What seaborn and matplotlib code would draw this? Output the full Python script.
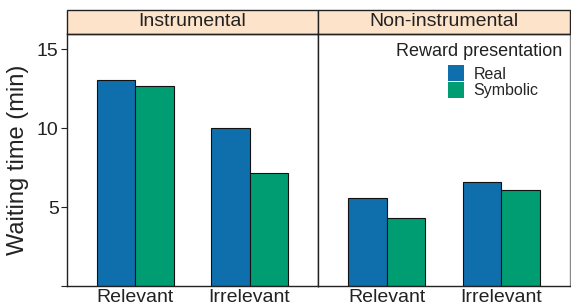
import seaborn as sns
import matplotlib.pyplot as plt
import pandas as pd
from matplotlib.patches import Rectangle

# values
panels = ["Instrumental", "Non-instrumental"]
relevance = ["Relevant", "Irrelevant"]
presentation = ["Real", "Symbolic"]
instrumental_real = [13.05, 10.0]
instrumental_symbolic = [12.65, 7.15]
noninstrumental_real = [5.6, 6.6]
noninstrumental_symbolic = [4.3, 6.05]

colors = {"Real": "#0F6FAD", "Symbolic": "#009D72"}
strip_color = "#FDE3C9"

rows = []
for panel, real, symb in [(panels[0], instrumental_real, instrumental_symbolic),
                          (panels[1], noninstrumental_real, noninstrumental_symbolic)]:
    for i, rel in enumerate(relevance):
        rows.append({"panel": panel, "relevance": rel, "presentation": "Real", "wait": real[i]})
        rows.append({"panel": panel, "relevance": rel, "presentation": "Symbolic", "wait": symb[i]})
df = pd.DataFrame(rows)

sns.set_style("white")
plt.rcParams['font.family'] = ['Liberation Sans', 'DejaVu Sans']

fig = plt.figure(figsize=(5.71, 3.06), dpi=100)
W, H = 571, 306
ax_bottom = (H - 286) / H
ax_height = 252 / H
axes = [fig.add_axes([67 / W, ax_bottom, 251 / W, ax_height]),
        fig.add_axes([318 / W, ax_bottom, 252 / W, ax_height])]

for k, (ax, panel) in enumerate(zip(axes, panels)):
    sub = df[df["panel"] == panel]
    sns.barplot(data=sub, x="relevance", y="wait", hue="presentation",
                order=relevance, hue_order=presentation, palette=colors,
                saturation=1, width=0.67, edgecolor="#111111", linewidth=0.8,
                ax=ax, legend=(k == 1))
    ax.set_xlim(-0.6, 1.6)
    ax.set_ylim(0, 15.95)
    ax.set_xlabel("")
    ax.set_ylabel("")
    ax.tick_params(axis="x", length=0, pad=2, labelsize=14, colors="#222222")
    for side in ["left", "right", "top", "bottom"]:
        ax.spines[side].set_color("#222222")
        ax.spines[side].set_linewidth(1.0)
    # strip
    ax.add_patch(Rectangle((0, 1), 1, 24 / 252, transform=ax.transAxes,
                           facecolor=strip_color, edgecolor="#222222",
                           linewidth=1.0, clip_on=False))
    ax.text(0.5, 1 + 12 / 252, panel, transform=ax.transAxes, ha="center",
            va="center", fontsize=14, color="#222222")

axes[0].set_yticks([0, 5, 10, 15])
axes[0].set_yticklabels(["", "5", "10", "15"])
axes[0].tick_params(axis="y", left=True, length=4, width=0.8, pad=2,
                    labelsize=14, colors="#222222")
axes[0].set_ylabel("Waiting time (min)", fontsize=17, color="#222222", labelpad=6)

axes[1].set_yticks([5, 10, 15])
axes[1].tick_params(axis="y", left=False, right=True, labelleft=False,
                    length=4, width=0.8, colors="#888888")
axes[1].spines["right"].set_color("#888888")

axes[1].text(0.968, 0.966, "Reward presentation", transform=axes[1].transAxes,
             ha="right", va="top", fontsize=13, color="#222222")
leg = axes[1].legend(loc="upper left", bbox_to_anchor=(0.516, 0.875),
                     frameon=False, fontsize=11.5, handlelength=1.0,
                     handleheight=1.15, handletextpad=0.6, labelspacing=0.0,
                     borderaxespad=0, borderpad=0)
for h in leg.legend_handles:
    h.set_edgecolor("none")

fig.savefig("out.png", dpi=100)
